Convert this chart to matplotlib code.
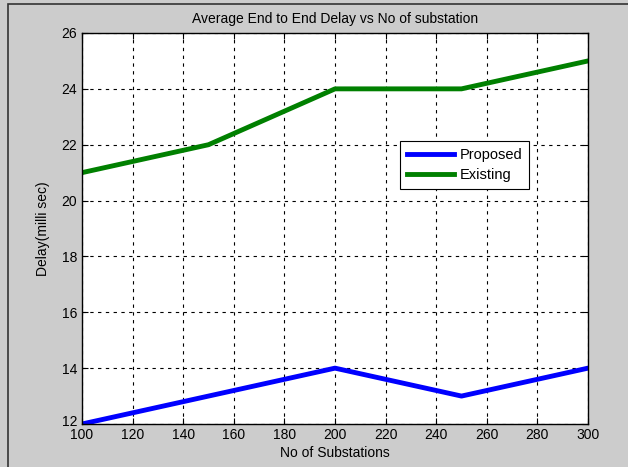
import matplotlib.pyplot as plt
import matplotlib.transforms as mtransforms
from matplotlib.patches import Rectangle

x_data = [100, 150, 200, 250, 300]
proposed = [12, 13, 14, 13, 14]
existing = [21, 22, 24, 24, 25]

plt.rcParams['font.family'] = ['Liberation Sans', 'DejaVu Sans']

fig = plt.figure(figsize=(6.28, 4.67), dpi=100, facecolor='#cccccc')
fig.patches.append(Rectangle((8/628, -0.01), 1.0, 1 - 4/467 + 0.01, transform=fig.transFigure,
                             fill=False, edgecolor='#333333', linewidth=1.2))
ax = fig.add_axes([82/628, 1 - 424/467, 506/628, 391/467])
ax.set_facecolor('white')

ax.plot(x_data, proposed, color='#0000ff', linewidth=3.5, label='Proposed')
ax.plot(x_data, existing, color='#008000', linewidth=3.5, label='Existing')

ax.set_xlim(100, 300)
ax.set_ylim(12, 26)
ax.set_xticks(range(100, 301, 20))
ax.set_yticks(range(12, 27, 2))
ax.grid(True, color='black', linestyle=(0, (3, 4)), linewidth=0.8)
ax.tick_params(direction='in', top=True, right=True, labelsize=10, length=4)
ax.tick_params(axis='x', pad=3)
for s in ax.spines.values():
    s.set_linewidth(1.0)

# nudge the bottom y label up so it clears the first x label
lab = ax.get_yticklabels()[0]
lab.set_transform(lab.get_transform() + mtransforms.ScaledTranslation(0, 4/100, fig.dpi_scale_trans))

ax.set_title('Average End to End Delay vs No of substation', fontsize=10, pad=7)
ax.set_xlabel('No of Substations', fontsize=10, labelpad=3)
ax.set_ylabel('Delay(milli sec)', fontsize=10, labelpad=8)

leg = ax.legend(loc='upper left', bbox_to_anchor=(0.615, 0.742), fontsize=10.5,
                fancybox=False, edgecolor='black', framealpha=1,
                handlelength=3.2, handletextpad=0.4, borderpad=0.45, labelspacing=0.45)
leg.get_frame().set_linewidth(0.8)

fig.savefig('out.png', dpi=100, facecolor=fig.get_facecolor())
